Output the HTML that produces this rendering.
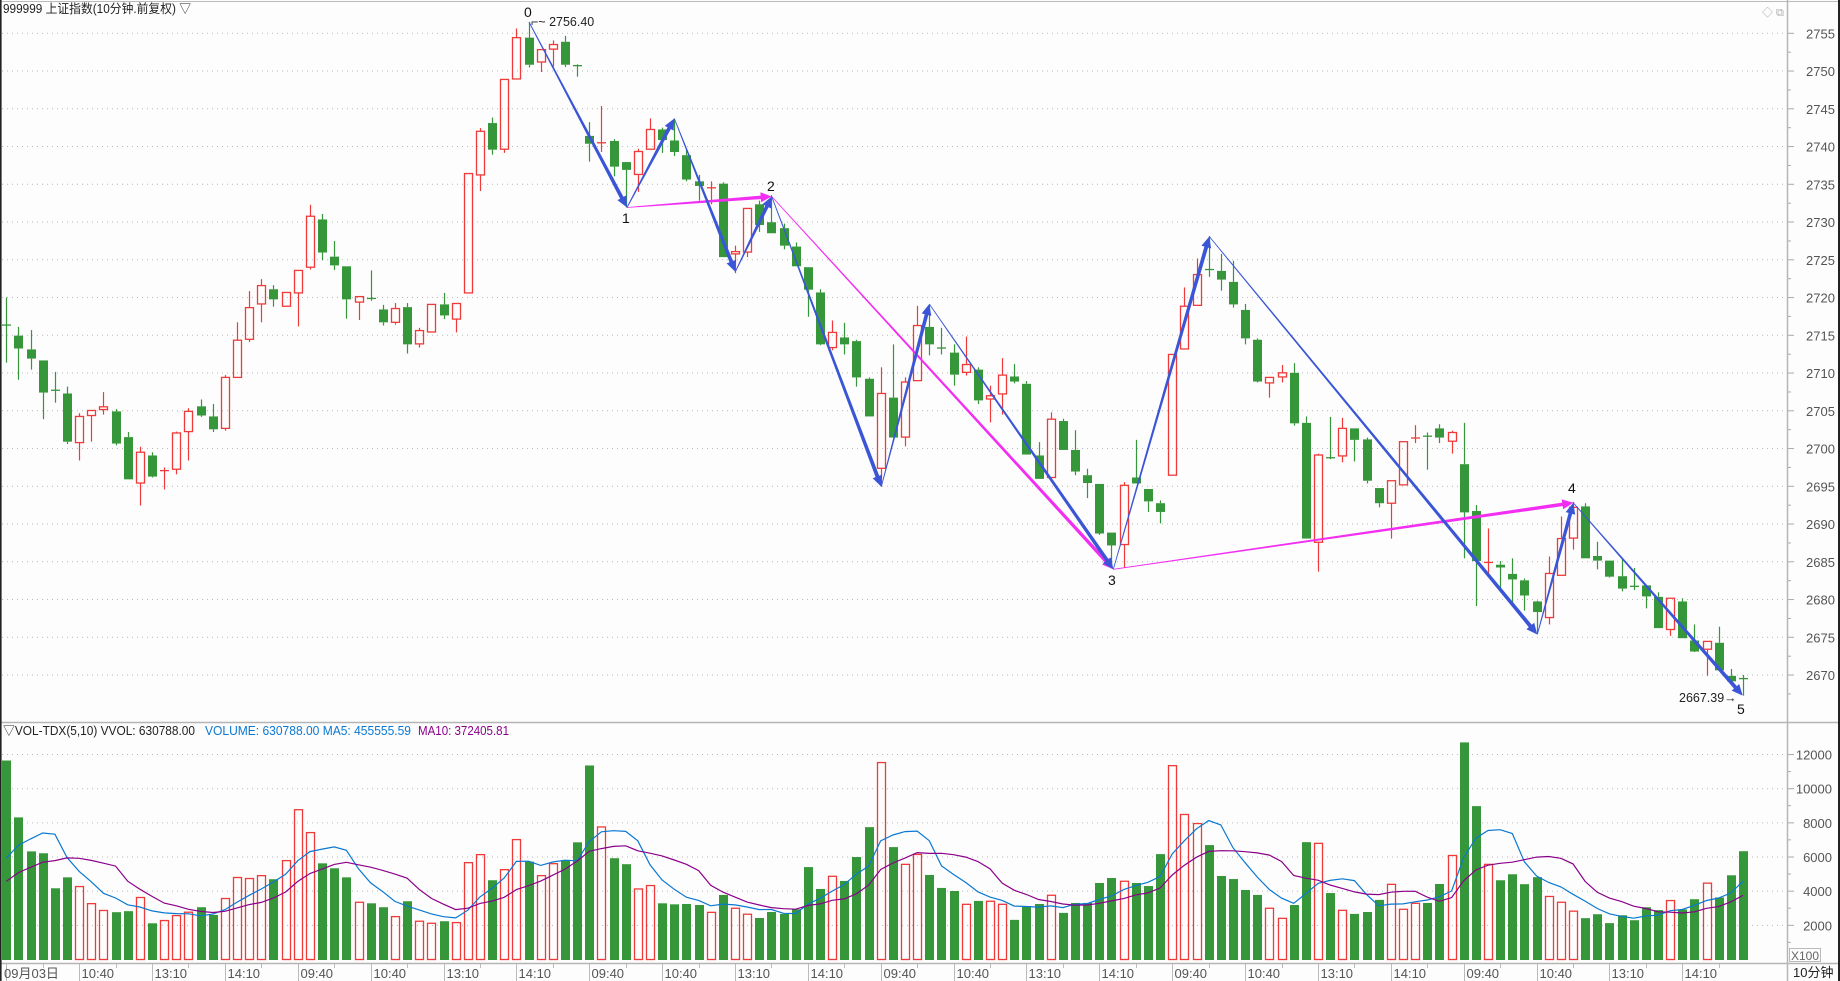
<!DOCTYPE html>
<html><head><meta charset="utf-8">
<style>
html,body{margin:0;padding:0;background:#fdfdfd;}
svg{display:block;}
text{font-family:"Liberation Sans","Noto Sans CJK SC",sans-serif;}
</style></head>
<body>
<svg id="s" xmlns="http://www.w3.org/2000/svg" width="1840" height="981" viewBox="0 0 1840 981">
<rect x="0" y="0" width="1840" height="981" fill="#fdfdfd"/>
<g id="grid"></g>
<g id="vol"></g>
<g id="cand"></g>
<g id="ann"></g>
<g id="axes"></g>
<text x="3" y="13" font-size="12.5" fill="#222" textLength="188" lengthAdjust="spacingAndGlyphs">999999 上证指数(10分钟.前复权) ▽</text>
<text x="3" y="735" font-size="12.5" fill="#222" textLength="192" lengthAdjust="spacingAndGlyphs">▽VOL-TDX(5,10) VVOL: 630788.00</text>
<text x="205" y="735" font-size="12.5" fill="#0a78d2" textLength="206" lengthAdjust="spacingAndGlyphs">VOLUME: 630788.00  MA5: 455555.59</text>
<text x="418" y="735" font-size="12.5" fill="#8b008b" textLength="91" lengthAdjust="spacingAndGlyphs">MA10: 372405.81</text>
</svg>
<script>
const NS="http://www.w3.org/2000/svg";
function el(p,t,a,txt){const e=document.createElementNS(NS,t);for(const k in a)e.setAttribute(k,a[k]);if(txt!==undefined)e.textContent=txt;document.getElementById(p).appendChild(e);return e;}
const R="#f03a3a",G="#36963a";
const Z=2.178;
const X=i=>6.3+i*12.145;
const PY=p=>33.3+(2755-p)*7.55;
for(let p=2755;p>=2670;p-=5){const y=PY(p);el("grid","line",{x1:2,y1:y,x2:1785,y2:y,stroke:"#b8b8b8","stroke-dasharray":"1,4","stroke-width":1});
el("axes","line",{x1:1787,y1:y,x2:1794,y2:y,stroke:"#aaa"});
el("axes","line",{x1:1787,y1:y+18.9,x2:1791,y2:y+18.9,stroke:"#aaa"});
el("axes","text",{x:1806,y:y+5,"font-size":13,fill:"#555"},String(p));}
const VY=v=>959.5-v*0.01708;
for(let v=2000;v<=12000;v+=2000){const y=VY(v);el("grid","line",{x1:2,y1:y,x2:1785,y2:y,stroke:"#b8b8b8","stroke-dasharray":"1,4"});
el("axes","line",{x1:1787,y1:y,x2:1794,y2:y,stroke:"#aaa"});
el("axes","line",{x1:1787,y1:y+17,x2:1791,y2:y+17,stroke:"#aaa"});
el("axes","text",{x:1832,y:y+5,"font-size":13,fill:"#555","text-anchor":"end"},String(v));}
const D=`g 648 708 708 790
g 712 731 759 827
g 719 761 781 805
g 785 785 855 913
g 810 850 850 877
g 842 857 962 967
r 900 907 964 1003
r 894 894 905 962
r 854 886 892 903
g 891 896 966 970
g 941 952 1044 1044
r 973 985 1052 1101
g 985 992 1038 1040
r 1018 1025 1025 1066
r 940 943 1022 1033
r 889 896 940 1003
g 870 885 905 908
g 880 907 935 941
r 817 822 933 938
r 702 741 822 822
r 634 670 739 745
r 608 622 662 702
g 621 630 652 668
r 637 637 667 667
r 589 589 638 711
r 446 471 582 587
g 466 478 550 567
g 525 559 578 588
g 580 580 652 694
r 646 646 658 697
g 589 650 650 655
g 664 674 702 709
r 660 672 702 707
g 660 669 750 770
r 714 720 749 757
r 663 663 723 723
g 638 663 687 695
r 661 661 695 724
r 378 378 638 638
r 279 286 381 416
g 256 268 326 337
r 173 173 325 333
r 62 82 172 172
g 48 82 141 147
r 108 108 135 157
r 88 97 107 145
g 78 91 141 146
g 140 143 143 167
g 266 296 313 352
r 231 311 311 331
g 303 307 363 384
g 353 353 370 452
r 324 330 380 418
r 258 282 325 325
g 278 282 305 333
g 258 306 331 340
g 325 338 391 395
g 381 395 405 437
r 395 409 409 445
g 397 400 560 560
r 535 548 553 595
r 454 454 549 560
g 437 445 490 505
g 425 484 508 508
g 487 497 535 543
g 528 537 580 580
g 582 582 631 690
g 630 637 750 752
r 698 724 757 763
g 703 735 750 772
g 740 743 822 842
g 822 825 907 907
r 800 857 1020 1060
g 750 866 953 953
r 822 832 952 972
r 666 709 829 829
g 663 712 750 774
g 714 758 758 772
g 750 768 816 840
r 733 794 811 818
g 800 805 872 880
r 840 862 869 920
r 780 817 858 903
g 793 820 831 835
g 830 836 990 990
g 963 992 1043 1043
r 898 913 1040 1040
g 912 917 980 980
g 937 980 1027 1035
g 1021 1035 1052 1085
g 1054 1054 1162 1165
g 1160 1160 1188 1238
r 1050 1057 1186 1236
g 958 1040 1053 1053
g 1065 1065 1092 1115
g 1090 1096 1115 1140
r 772 772 1035 1035
r 626 667 760 760
r 563 598 665 665
g 514 587 587 603
g 553 590 609 633
g 568 614 663 670
g 662 675 737 750
g 737 740 831 833
r 822 822 834 866
r 795 812 821 833
g 791 812 922 927
g 907 921 1173 1173
r 988 991 1181 1245
g 908 997 997 1000
r 910 933 993 1007
g 933 933 958 1005
g 953 957 1047 1053
g 1063 1063 1096 1105
r 1047 1047 1096 1173
r 962 962 1056 1056
r 926 954 957 965
g 942 950 950 1023
g 924 933 953 965
r 938 942 961 988
g 921 1011 1116 1216
g 1100 1113 1222 1320
r 1151 1225 1225 1250
g 1222 1230 1236 1280
g 1216 1250 1262 1320
g 1260 1264 1297 1330
g 1308 1310 1333 1380
r 1212 1249 1345 1360
r 1125 1173 1253 1253
r 1093 1105 1172 1197
g 1096 1103 1216 1216
g 1180 1211 1221 1240
g 1221 1221 1256 1258
g 1215 1255 1282 1288
g 1237 1277 1277 1285
g 1275 1275 1299 1325
g 1290 1300 1368 1368
r 1303 1303 1371 1385
g 1303 1310 1390 1390
g 1360 1395 1419 1420
r 1397 1397 1414 1472
g 1365 1400 1460 1460
g 1457 1472 1484 1490
g 1470 1478 1478 1515`.trim().split("\n").map(l=>{const a=l.trim().split(/\s+/);return [a[0],+a[1]/Z,+a[2]/Z,+a[3]/Z,+a[4]/Z];});
const cols=[];
D.forEach((d,i)=>{const x=Math.round(X(i))+0.5;const c=d[0]=="r"?R:G;cols.push(c);
 const [_,h,t,b,l]=d;
 if(b-t<1.5){el("cand","line",{x1:x,y1:h,x2:x,y2:l,stroke:c,"stroke-width":1.2});el("cand","line",{x1:x-4.5,y1:t,x2:x+4.5,y2:t,stroke:c,"stroke-width":1.3});return;}
 if(h<t)el("cand","line",{x1:x,y1:h,x2:x,y2:t,stroke:c,"stroke-width":1.2});
 if(l>b)el("cand","line",{x1:x,y1:b,x2:x,y2:l,stroke:c,"stroke-width":1.2});
 if(c==R)el("cand","rect",{x:x-4,y:t,width:8,height:b-t,fill:"none",stroke:R,"stroke-width":1.3});
 else el("cand","rect",{x:x-4.5,y:t,width:9,height:b-t,fill:G});
});
const V=[11650,8320,6330,6220,4170,4810,4270,3270,2870,2770,2830,3630,2120,2280,2570,2770,3060,2610,3570,4800,4740,4910,4700,5790,8770,7430,5630,5340,4810,3350,3290,3060,2510,3410,2240,2120,2240,2160,5670,6140,4640,5260,7020,5730,4910,5610,5790,6860,11360,7760,5930,5580,4130,4330,3290,3230,3250,3190,2760,3780,3000,2650,2430,2780,2670,2940,5410,4130,4870,4600,6000,7750,11530,6580,5570,6150,4950,4190,4010,3230,3430,3410,3230,2320,3130,3250,3760,2730,3310,3310,4480,4770,4580,4480,4300,6170,11350,8490,7960,6700,4890,4710,4070,3780,3000,2410,3190,6870,6800,3890,2880,2670,2780,3490,4400,2940,3290,3310,4420,6090,12710,8980,5570,4640,4990,4410,4820,3690,3350,2830,2420,2650,2130,2590,2300,3060,2890,3450,2930,3530,4470,3630,4930,6340];
V.forEach((v,i)=>{const x=Math.round(X(i))+0.5;const y=VY(v);
 if(cols[i]==R)el("vol","rect",{x:x-4,y:y,width:8,height:959.5-y,fill:"none",stroke:R,"stroke-width":1.3});
 else el("vol","rect",{x:x-4.5,y:y,width:9,height:960-y,fill:G});});
const P=[3230,3230,3230,3230,3230,4500,4500,4500,4500].concat(V);
function ma(n){let pts=[];for(let i=0;i<V.length;i++){let s=0;for(let k=0;k<n;k++)s+=P[i+9-k];pts.push(X(i).toFixed(1)+","+VY(s/n).toFixed(1));}return pts.join(" ");}
el("vol","polyline",{points:ma(5),fill:"none",stroke:"#0a78d2","stroke-width":1.2});
el("vol","polyline",{points:ma(10),fill:"none",stroke:"#8b008b","stroke-width":1.2});
function arrow(p1,p2,c,w1,w2){const dx=p2[0]-p1[0],dy=p2[1]-p1[1],L=Math.hypot(dx,dy),ux=dx/L,uy=dy/L,nx=-uy,ny=ux;
 const ex=p2[0]-ux*11,ey=p2[1]-uy*11;
 const pts=[[p1[0]+nx*w1/2,p1[1]+ny*w1/2],[ex+nx*w2/2,ey+ny*w2/2],[ex+nx*5,ey+ny*5],[p2[0],p2[1]],[ex-nx*5,ey-ny*5],[ex-nx*w2/2,ey-ny*w2/2],[p1[0]-nx*w1/2,p1[1]-ny*w1/2]];
 el("ann","polygon",{points:pts.map(p=>p[0].toFixed(1)+","+p[1].toFixed(1)).join(" "),fill:c});}
const P0=[529,22],P1=[627,207.5],A=[674.3,118.5],B=[735.3,271.8],P2=[771.7,196.5],C=[881.3,486.7],Dd=[929.3,304],P3=[1113.3,569.3],E=[1209.3,236.5],F=[1537.3,634.5],P4=[1573.3,502.8],P5=[1742.7,695.6];
const BL="#3a56d6",MG="#f22ef2";
[[P1,P2],[P2,P3],[P3,P4]].forEach(s=>arrow(s[0],s[1],MG,0.8,3.5));
[[P0,P1],[P1,A],[A,B],[B,P2],[P2,C],[C,Dd],[Dd,P3],[P3,E],[E,F],[F,P4],[P4,P5]].forEach(s=>arrow(s[0],s[1],BL,0.8,3.8));
el("ann","text",{x:524,y:17,"font-size":14,fill:"#111"},"0");
el("ann","text",{x:622,y:223,"font-size":14,fill:"#111"},"1");
el("ann","text",{x:767,y:191,"font-size":14,fill:"#111"},"2");
el("ann","text",{x:1108,y:585,"font-size":14,fill:"#111"},"3");
el("ann","text",{x:1568,y:493,"font-size":14,fill:"#111"},"4");
el("ann","text",{x:1737,y:714,"font-size":14,fill:"#111"},"5");
el("ann","text",{x:531,y:26,"font-size":12.5,fill:"#222"},"⌐~ 2756.40");
el("ann","text",{x:1679,y:702,"font-size":12.5,fill:"#222"},"2667.39→");
el("axes","line",{x1:0,y1:1.5,x2:1840,y2:1.5,stroke:"#bbb"});
el("axes","line",{x1:1787.5,y1:0,x2:1787.5,y2:981,stroke:"#b5b5b5","stroke-width":1.5});
el("axes","line",{x1:0,y1:722.5,x2:1840,y2:722.5,stroke:"#b5b5b5","stroke-width":1.5});
el("axes","line",{x1:0,y1:963.5,x2:1840,y2:963.5,stroke:"#b5b5b5","stroke-width":1.5});
el("axes","line",{x1:0.8,y1:0,x2:0.8,y2:981,stroke:"#222","stroke-width":1.6});
el("axes","line",{x1:1839,y1:0,x2:1839,y2:981,stroke:"#222","stroke-width":2});
el("axes","rect",{x:1789.5,y:948.5,width:31,height:13,fill:"none",stroke:"#bbb"});
el("axes","text",{x:1791,y:960,"font-size":12,fill:"#666"},"X100");
el("axes","text",{x:1793,y:977,"font-size":13,fill:"#222"},"10分钟");
el("axes","text",{x:1762,y:16,"font-size":11,fill:"#aaa"},"◇");
el("axes","text",{x:1776,y:16,"font-size":11,fill:"#aaa"},"⧉");
const labs=["09:40","10:40","13:10","14:10"];
for(let k=0;k<24;k++){const x=Math.round(X(6*k))+0.5;
 el("axes","line",{x1:x,y1:964,x2:x,y2:981,stroke:"#bbb"});
 el("axes","line",{x1:Math.round(X(6*k+3))+0.5,y1:964,x2:Math.round(X(6*k+3))+0.5,y2:968,stroke:"#bbb"});
 el("axes","text",{x:k==0?4:x+2,y:978,"font-size":13,fill:"#555"},k==0?"09月03日":labs[k%4]);}
</script>
</body></html>
